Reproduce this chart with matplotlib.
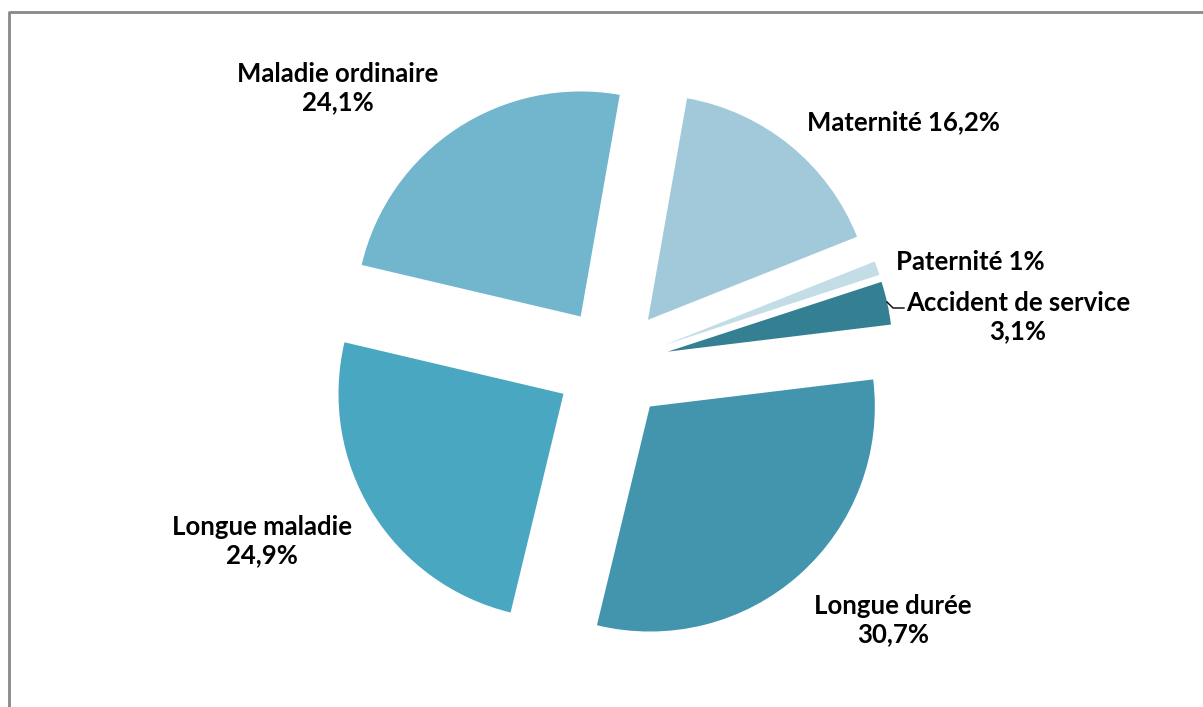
import matplotlib
matplotlib.use("Agg")
import matplotlib.pyplot as plt
from matplotlib.lines import Line2D

categories = ["Maternité", "Paternité", "Accident de service", "Longue durée",
              "Longue maladie", "Maladie ordinaire"]
values = [16.2, 1.0, 3.1, 30.7, 24.9, 24.1]
separators = [" ", " ", "\n", "\n", "\n", "\n"]
colors = ["#A2C9DA", "#C3DDE7", "#357F93", "#4394AD", "#4AA7C1", "#71B6CD"]

def fmt(v):
    s = ("%.1f" % v).replace(".", ",")
    if s.endswith(",0"):
        s = s[:-2]
    return s + "%"

labels = [c + sep + fmt(v) for c, sep, v in zip(categories, separators, values)]

W, H = 1203, 707
fig = plt.figure(figsize=(W / 100, H / 100), dpi=100)
ax = fig.add_axes([0, 0, 1, 1])

cx, cy, R = 612, H - 364, 225
ax.pie(values, colors=colors, startangle=80, counterclock=False,
       explode=[0.253 * R] * len(values), center=(cx, cy), radius=R,
       wedgeprops=dict(linewidth=0), frame=True)
ax.set_xlim(0, W)
ax.set_ylim(0, H)
ax.axis("off")
ax.set_aspect("equal")

# label positions (pixel coords, top-left origin)
label_pos = [(903, 122), (970, 262), (1018, 317), (893, 620), (262, 541), (338, 88)]
for lab, (x, y) in zip(labels, label_pos):
    ax.text(x, H - y, lab, ha="center", va="center", fontsize=18.5,
            fontweight="bold", family="Lato", linespacing=1.2, color="black")

# leader line for Accident de service
ax.add_line(Line2D([887, 893, 904], [H - 302, H - 308, H - 308],
                   color="black", linewidth=1))

# chart border (partially visible)
ax.add_line(Line2D([9, 9, W], [0, H - 12, H - 12], color="#888888",
                   linewidth=2, solid_capstyle="butt"))

fig.savefig("out.png", dpi=100)
